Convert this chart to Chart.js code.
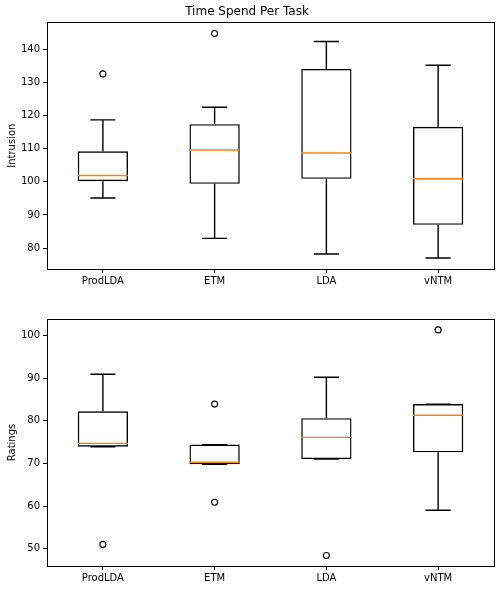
<!DOCTYPE html>
<html>
<head>
<meta charset="utf-8">
<script src="https://cdn.jsdelivr.net/npm/chart.js@4/dist/chart.umd.min.js"></script>
<style>
  body { margin: 0; background: #fff; }
  #wrap { position: relative; width: 500px; height: 590px; }
  canvas { position: absolute; left: 0; display: block; }
</style>
</head>
<body>
<div id="wrap">
  <canvas id="top" width="500" height="295" style="top:0"></canvas>
  <canvas id="bottom" width="500" height="295" style="top:295px"></canvas>
</div>
<script>
var categories = ['ProdLDA', 'ETM', 'LDA', 'vNTM'];

// Intrusion (top panel)
var intrusionLow  = [95.1, 82.9, 78.2, 77.0];
var intrusionQ1   = [100.2, 99.4, 100.9, 87.0];
var intrusionMed  = [101.9, 109.6, 108.7, 100.9];
var intrusionQ3   = [109.2, 117.4, 134.1, 116.6];
var intrusionHigh = [118.7, 122.5, 142.4, 135.2];
var intrusionOutliers = [132.6, 144.8, null, null];

// Ratings (bottom panel)
var ratingsLow  = [73.9, 69.8, 71.0, 59.0];
var ratingsQ1   = [73.9, 69.8, 71.0, 72.6];
var ratingsMed  = [74.7, 70.3, 76.1, 81.3];
var ratingsQ3   = [82.2, 74.4, 80.6, 83.9];
var ratingsHigh = [90.9, 74.4, 90.2, 83.9];
var ratingsOutliersA = [51.0, 83.9, 48.4, 101.3];
var ratingsOutliersB = [null, 60.9, null, null];

Chart.defaults.font.family = 'DejaVu Sans';
Chart.defaults.color = '#000';

function boxPlugin(low, q1, med, q3, high) {
  return {
    id: 'boxParts',
    afterDatasetsDraw: function(chart) {
      var ctx = chart.ctx;
      var x = chart.scales.x, y = chart.scales.y;
      var step = x.getPixelForValue(1) - x.getPixelForValue(0);
      var capHalf = step * 0.45 / 4;
      var boxHalf = step * 0.45 / 2;
      ctx.save();
      for (var i = 0; i < categories.length; i++) {
        var cx = x.getPixelForValue(i);
        ctx.strokeStyle = '#000';
        ctx.lineWidth = 1.4;
        ctx.beginPath();
        ctx.moveTo(cx, y.getPixelForValue(q3[i]));
        ctx.lineTo(cx, y.getPixelForValue(high[i]));
        ctx.moveTo(cx, y.getPixelForValue(q1[i]));
        ctx.lineTo(cx, y.getPixelForValue(low[i]));
        ctx.moveTo(cx - capHalf, y.getPixelForValue(high[i]));
        ctx.lineTo(cx + capHalf, y.getPixelForValue(high[i]));
        ctx.moveTo(cx - capHalf, y.getPixelForValue(low[i]));
        ctx.lineTo(cx + capHalf, y.getPixelForValue(low[i]));
        ctx.stroke();
        ctx.strokeStyle = '#ff7f0e';
        ctx.lineWidth = 1.4;
        ctx.beginPath();
        ctx.moveTo(cx - boxHalf, y.getPixelForValue(med[i]));
        ctx.lineTo(cx + boxHalf, y.getPixelForValue(med[i]));
        ctx.stroke();
      }
      var a = chart.chartArea;
      ctx.strokeStyle = '#000';
      ctx.lineWidth = 1;
      ctx.strokeRect(Math.round(a.left) + 0.5, Math.round(a.top) + 0.5,
        Math.round(a.right - a.left), Math.round(a.bottom - a.top));
      ctx.restore();
    }
  };
}

function makeChart(id, opts) {
  var boxes = opts.q1.map(function(v, i) { return [v, opts.q3[i]]; });
  var datasets = [{
    type: 'bar',
    data: boxes,
    backgroundColor: 'rgba(0,0,0,0)',
    borderColor: '#000',
    borderWidth: 1.4,
    borderSkipped: false,
    barPercentage: 0.45,
    categoryPercentage: 1
  }];
  opts.outliers.forEach(function(o) {
    datasets.push({
      type: 'line',
      data: o,
      showLine: false,
      pointRadius: 3,
      pointBorderWidth: 1.1,
      pointBorderColor: '#000',
      pointBackgroundColor: 'rgba(0,0,0,0)'
    });
  });
  return new Chart(document.getElementById(id), {
    type: 'bar',
    data: { labels: categories, datasets: datasets },
    options: {
      responsive: false,
      animation: false,
      layout: { padding: { left: 0, right: 6, top: opts.padTop, bottom: 0 } },
      plugins: {
        legend: { display: false },
        tooltip: { enabled: false },
        title: {
          display: !!opts.title,
          text: opts.title,
          font: { size: 12, weight: 'normal' },
          color: '#000',
          padding: { top: 5, bottom: 3 }
        }
      },
      scales: {
        x: {
          offset: true,
          border: { display: false },
          grid: { offset: false, drawOnChartArea: false, tickLength: 4, color: '#000' },
          ticks: { font: { size: 10 }, padding: 2, color: '#000' },
          afterFit: function(s) { s.height = opts.xHeight; }
        },
        y: {
          min: opts.min,
          max: opts.max,
          border: { display: false },
          grid: { drawOnChartArea: false, tickLength: 4, color: '#000' },
          ticks: { stepSize: 10, includeBounds: false, font: { size: 10 }, padding: 3, color: '#000' },
          title: { display: true, text: opts.yTitle, font: { size: 10 }, color: '#000', padding: { top: 6, bottom: 0 } },
          afterFit: function(s) { s.width = 47; }
        }
      }
    },
    plugins: [boxPlugin(opts.low, opts.q1, opts.med, opts.q3, opts.high)]
  });
}

makeChart('top', {
  title: 'Time Spend Per Task', yTitle: 'Intrusion',
  min: 73.66, max: 148.15, padTop: 0, xHeight: 26,
  low: intrusionLow, q1: intrusionQ1, med: intrusionMed, q3: intrusionQ3, high: intrusionHigh,
  outliers: [intrusionOutliers]
});

makeChart('bottom', {
  title: '', yTitle: 'Ratings',
  min: 45.94, max: 103.85, padTop: 24, xHeight: 24,
  low: ratingsLow, q1: ratingsQ1, med: ratingsMed, q3: ratingsQ3, high: ratingsHigh,
  outliers: [ratingsOutliersA, ratingsOutliersB]
});
</script>
</body>
</html>
